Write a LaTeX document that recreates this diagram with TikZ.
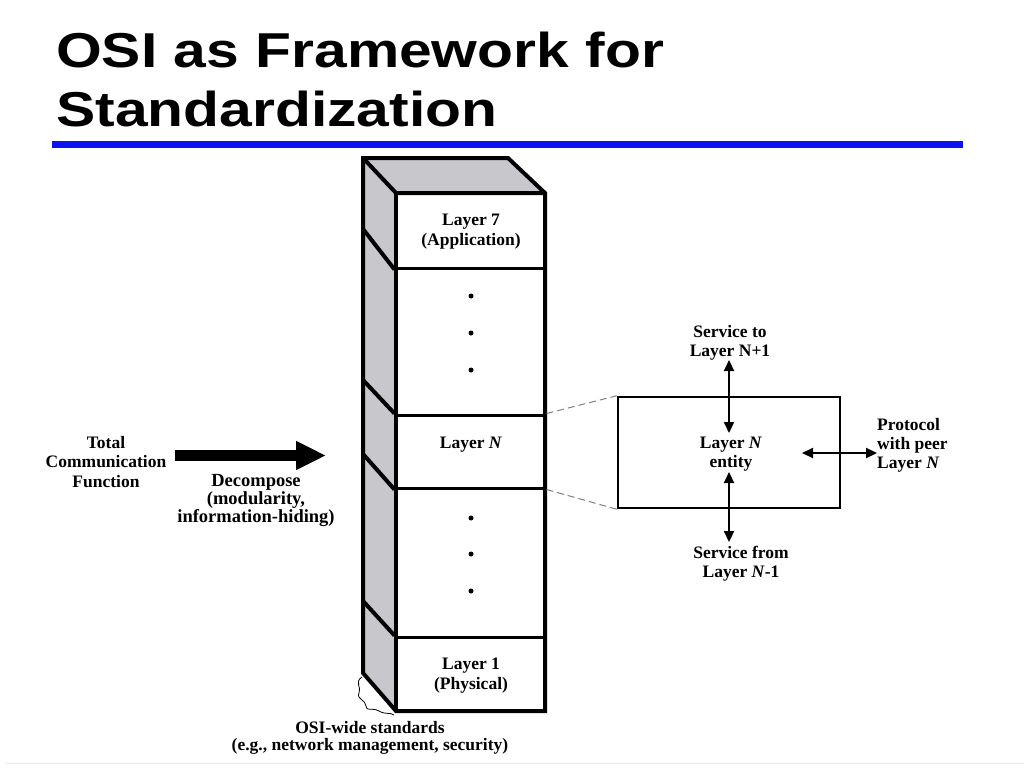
\documentclass[tikz,border=0pt]{standalone}
\usepackage{fontspec}
\setmainfont{Liberation Serif}
\newfontfamily\titlefont[FakeStretch=1.2]{Liberation Sans}
\usetikzlibrary{arrows.meta}
\definecolor{sidegray}{RGB}{200,200,204}
\definecolor{ruleblue}{RGB}{10,20,240}
\tikzset{
  lbl/.style={font=\fontsize{17.5}{19}\selectfont\bfseries, align=center, inner sep=0pt},
  layerbox/.style={draw, line width=3pt, minimum width=149pt, inner sep=0pt, font=\fontsize{17.5}{20}\selectfont\bfseries, align=center},
  dotnode/.style={circle, fill, inner sep=0pt, minimum size=5pt},
  dbl/.style={line width=2.2pt, {Triangle[length=11pt,width=10pt]}-{Triangle[length=11pt,width=10pt]}},
}
\begin{document}
\begin{tikzpicture}[x=1pt,y=-1pt]
\useasboundingbox (0,0) rectangle (1024,768);
% title
\node[anchor=base west, inner sep=0pt, font=\titlefont\fontsize{49}{59}\selectfont\bfseries, align=left] (title) at (56,67) {OSI as Framework for};
\node[anchor=base west, inner sep=0pt, font=\titlefont\fontsize{49}{59}\selectfont\bfseries, align=left] (title2) at (56,126) {Standardization};
\fill[ruleblue] (52,141) rectangle (963,148);
\draw[black!8, line width=1pt] (5,763) -- (1024,763);
% column side and top
\fill[sidegray] (363,158) -- (396,193) -- (396,711) -- (363,673) -- cycle;
\fill[sidegray] (363,158) -- (508,158) -- (545,193) -- (396,193) -- cycle;
% layer boxes
\node[layerbox, minimum height=75pt] (l7) at (470.5,230.5) {};
\node[layerbox, minimum height=147pt] (d1) at (470.5,341.5) {};
\node[layerbox, minimum height=73pt] (ln) at (470.5,451.5) {};
\node[layerbox, minimum height=149pt] (d2) at (470.5,562.5) {};
\node[layerbox, minimum height=74pt] (l1) at (470.5,674) {};
\node[lbl, font=\fontsize{17.5}{20}\selectfont\bfseries] (l7t) at (471,232) {Layer 7\\(Application)};
\node[lbl] (lnt) at (471,445) {Layer \textit{N}};
\node[lbl, font=\fontsize{17.5}{20}\selectfont\bfseries] (l1t) at (471,676) {Layer 1\\(Physical)};
% outline of column
\draw[line width=4pt, line join=miter] (396,711) -- (363,673) -- (363,158) -- (508,158) -- (545,193) -- (545,711) -- cycle;
\draw[line width=4pt] (363,158) -- (396,193) -- (545,193);
\draw[line width=4pt] (396,193) -- (396,711);
\draw[line width=4pt] (363,229) -- (l7.south west);
\draw[line width=4pt] (363,380) -- (ln.north west);
\draw[line width=4pt] (363,454) -- (ln.south west);
\draw[line width=4pt] (363,601) -- (l1.north west);
% dots
\node[dotnode] (a1) at (471,296) {};
\node[dotnode] (a2) at (471,333) {};
\node[dotnode] (a3) at (471,370) {};
\node[dotnode] (b1) at (471,518) {};
\node[dotnode] (b2) at (471,554) {};
\node[dotnode] (b3) at (471,591) {};
% squiggle
\draw[line width=0.8pt] (362,677) .. controls (354,682) and (362,688) .. (359,693) .. controls (356,699) and (366,700) .. (366,706) .. controls (366,712) and (372,707) .. (379,711) .. controls (386,715) and (390,712) .. (394,715);
\node[lbl, font=\fontsize{17.5}{17}\selectfont\bfseries] (osi) at (370,738) {OSI-wide standards\\(e.g., network management, security)};
% entity box
\node[draw, line width=2.5pt, minimum width=222pt, minimum height=111pt, inner sep=0pt] (ent) at (729,452.5) {};
\draw[gray, line width=1pt, dash pattern=on 7pt off 4pt] (ln.north east) -- (ent.north west);
\draw[gray, line width=1pt, dash pattern=on 7pt off 4pt] (ln.south east) -- (ent.south west);
\node[lbl] (entl) at (731,454) {Layer \textit{N}\\entity};
\node[lbl] (sto) at (730,343) {Service to\\Layer N+1};
\node[lbl] (sfrom) at (741,564) {Service from\\Layer \textit{N}-1};
\node[lbl, align=left, anchor=west] (prot) at (877,445) {Protocol\\with peer\\Layer \textit{N}};
\coordinate (t1) at (729,360);
\coordinate (t2) at (729,433);
\coordinate (u1) at (729,472);
\coordinate (u2) at (729,542);
\coordinate (h1) at (802,453);
\coordinate (h2) at (877,453);
\draw[dbl] (t1) -- (t2);
\draw[dbl] (u1) -- (u2);
\draw[dbl] (h1) -- (h2);
% left
\node[lbl, font=\fontsize{17.5}{19.5}\selectfont\bfseries] (tcf) at (106,462) {Total\\Communication\\Function};
\node[lbl, font=\fontsize{18.5}{18}\selectfont\bfseries] (dec) at (256,500) {Decompose\\(modularity,\\information-hiding)};
\coordinate (arS) at (175,455.5);
\coordinate (arE) at (326,455.5);
\draw[line width=11pt, -{Triangle[length=30pt,width=27pt]}] (arS) -- (arE);
\end{tikzpicture}
\end{document}
